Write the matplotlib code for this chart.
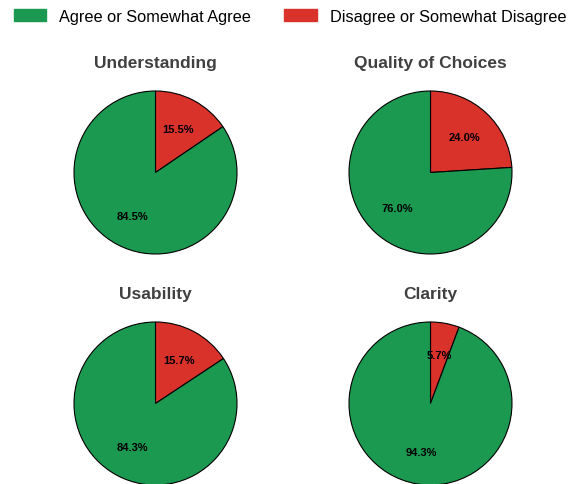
import matplotlib
matplotlib.use("Agg")
import matplotlib.pyplot as plt
import matplotlib.patches as mpatches

plt.rcParams['font.family'] = ['Liberation Sans', 'DejaVu Sans']

titles = ["Understanding", "Quality of Choices", "Usability", "Clarity"]
disagree = [15.5, 24.0, 15.7, 5.7]
agree = [84.5, 76.0, 84.3, 94.3]
labels = ["Agree or Somewhat Agree", "Disagree or Somewhat Disagree"]

green = "#1b9950"
red = "#d9322a"

W, H = 580, 485
fig = plt.figure(figsize=(W / 100, H / 100), dpi=100)

# pie centres in pixels (from top-left), radius in pixels
centres = [(155.5, 173.5), (430.5, 173.5), (155.5, 404.5), (430.5, 404.5)]
radius = 81.5
half = radius * 1.25

for i, (cx, cy) in enumerate(centres):
    ax = fig.add_axes([(cx - half) / W, 1 - (cy + half) / H, 2 * half / W, 2 * half / H])
    ax.pie([disagree[i], agree[i]], colors=[red, green], startangle=90, counterclock=False,
           autopct='%1.1f%%', pctdistance=0.6,
           wedgeprops=dict(edgecolor='black', linewidth=0.8),
           textprops=dict(fontsize=8, fontweight='bold', color='black'))
    ax.set_xlim(-1.25, 1.25)
    ax.set_ylim(-1.25, 1.25)
    ax.set_aspect('equal')
    ax.axis('off')
    # title, baseline a bit above the pie
    fig.text(cx / W, 1 - (cy - 105.5) / H, titles[i], ha='center', va='baseline',
             fontsize=12.5, fontweight='bold', color='#404040')

# legend
handles = [mpatches.Patch(color=green), mpatches.Patch(color=red)]
fig.legend(handles, labels, loc='upper center', bbox_to_anchor=(0.5, 1.0), ncol=2,
           frameon=False, fontsize=11.8, handlelength=2.0, borderaxespad=0.2)

fig.savefig("out.png", dpi=100)
